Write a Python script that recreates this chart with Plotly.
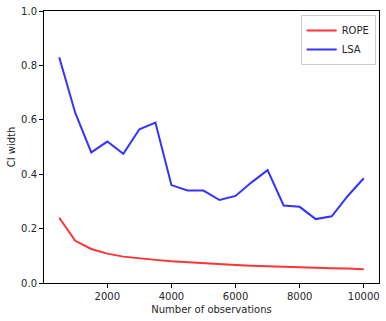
import plotly.graph_objects as go

n_obs = [500, 1000, 1500, 2000, 2500, 3000, 3500, 4000, 4500, 5000,
         5500, 6000, 6500, 7000, 7500, 8000, 8500, 9000, 9500, 10000]
rope = [0.24, 0.155, 0.125, 0.108, 0.097, 0.090, 0.085, 0.080, 0.076, 0.072,
        0.068, 0.066, 0.063, 0.061, 0.058, 0.057, 0.056, 0.054, 0.053, 0.051]
lsa = [0.83, 0.625, 0.48, 0.52, 0.475, 0.565, 0.59, 0.36, 0.34, 0.34,
       0.305, 0.32, 0.37, 0.415, 0.285, 0.28, 0.235, 0.245, 0.32, 0.385]
x_ticks = [2000, 4000, 6000, 8000, 10000]
y_ticks = [0, 0.2, 0.4, 0.6, 0.8, 1.0]

fnt = dict(family="DejaVu Sans", size=10, color="#262626")

fig = go.Figure()
fig.add_trace(go.Scatter(x=n_obs, y=rope, mode="lines", name="ROPE",
                         line=dict(color="rgba(255,0,0,0.8)", width=2)))
fig.add_trace(go.Scatter(x=n_obs, y=lsa, mode="lines", name="LSA",
                         line=dict(color="rgba(0,0,255,0.8)", width=2)))

axis_style = dict(showgrid=False, zeroline=False, showline=True, mirror=True,
                  linecolor="black", linewidth=1, ticks="outside", ticklen=4,
                  tickcolor="black", tickfont=fnt, automargin=False)

fig.update_layout(
    width=386, height=321,
    margin=dict(l=44, r=7, t=11, b=38),
    plot_bgcolor="white", paper_bgcolor="white",
    font=fnt,
    xaxis=dict(range=[25, 10475], tickvals=x_ticks,
               ticktext=[str(v) for v in x_ticks],
               title=dict(text="Number of observations", font=fnt, standoff=4),
               **axis_style),
    yaxis=dict(range=[0, 1], tickvals=y_ticks,
               ticktext=["%.1f" % v for v in y_ticks],
               title=dict(text="CI width", font=fnt, standoff=3),
               **axis_style),
    legend=dict(x=0.99, y=0.985, xanchor="right", yanchor="top",
                bordercolor="#cccccc", borderwidth=1, bgcolor="white",
                font=fnt, tracegroupgap=0, itemwidth=30),
    showlegend=True,
)

# drop the browser's default body margin so the figure sits at (0, 0)
fig.write_html("out.html", config={"displayModeBar": False},
               post_script="document.body.style.margin='0';")
